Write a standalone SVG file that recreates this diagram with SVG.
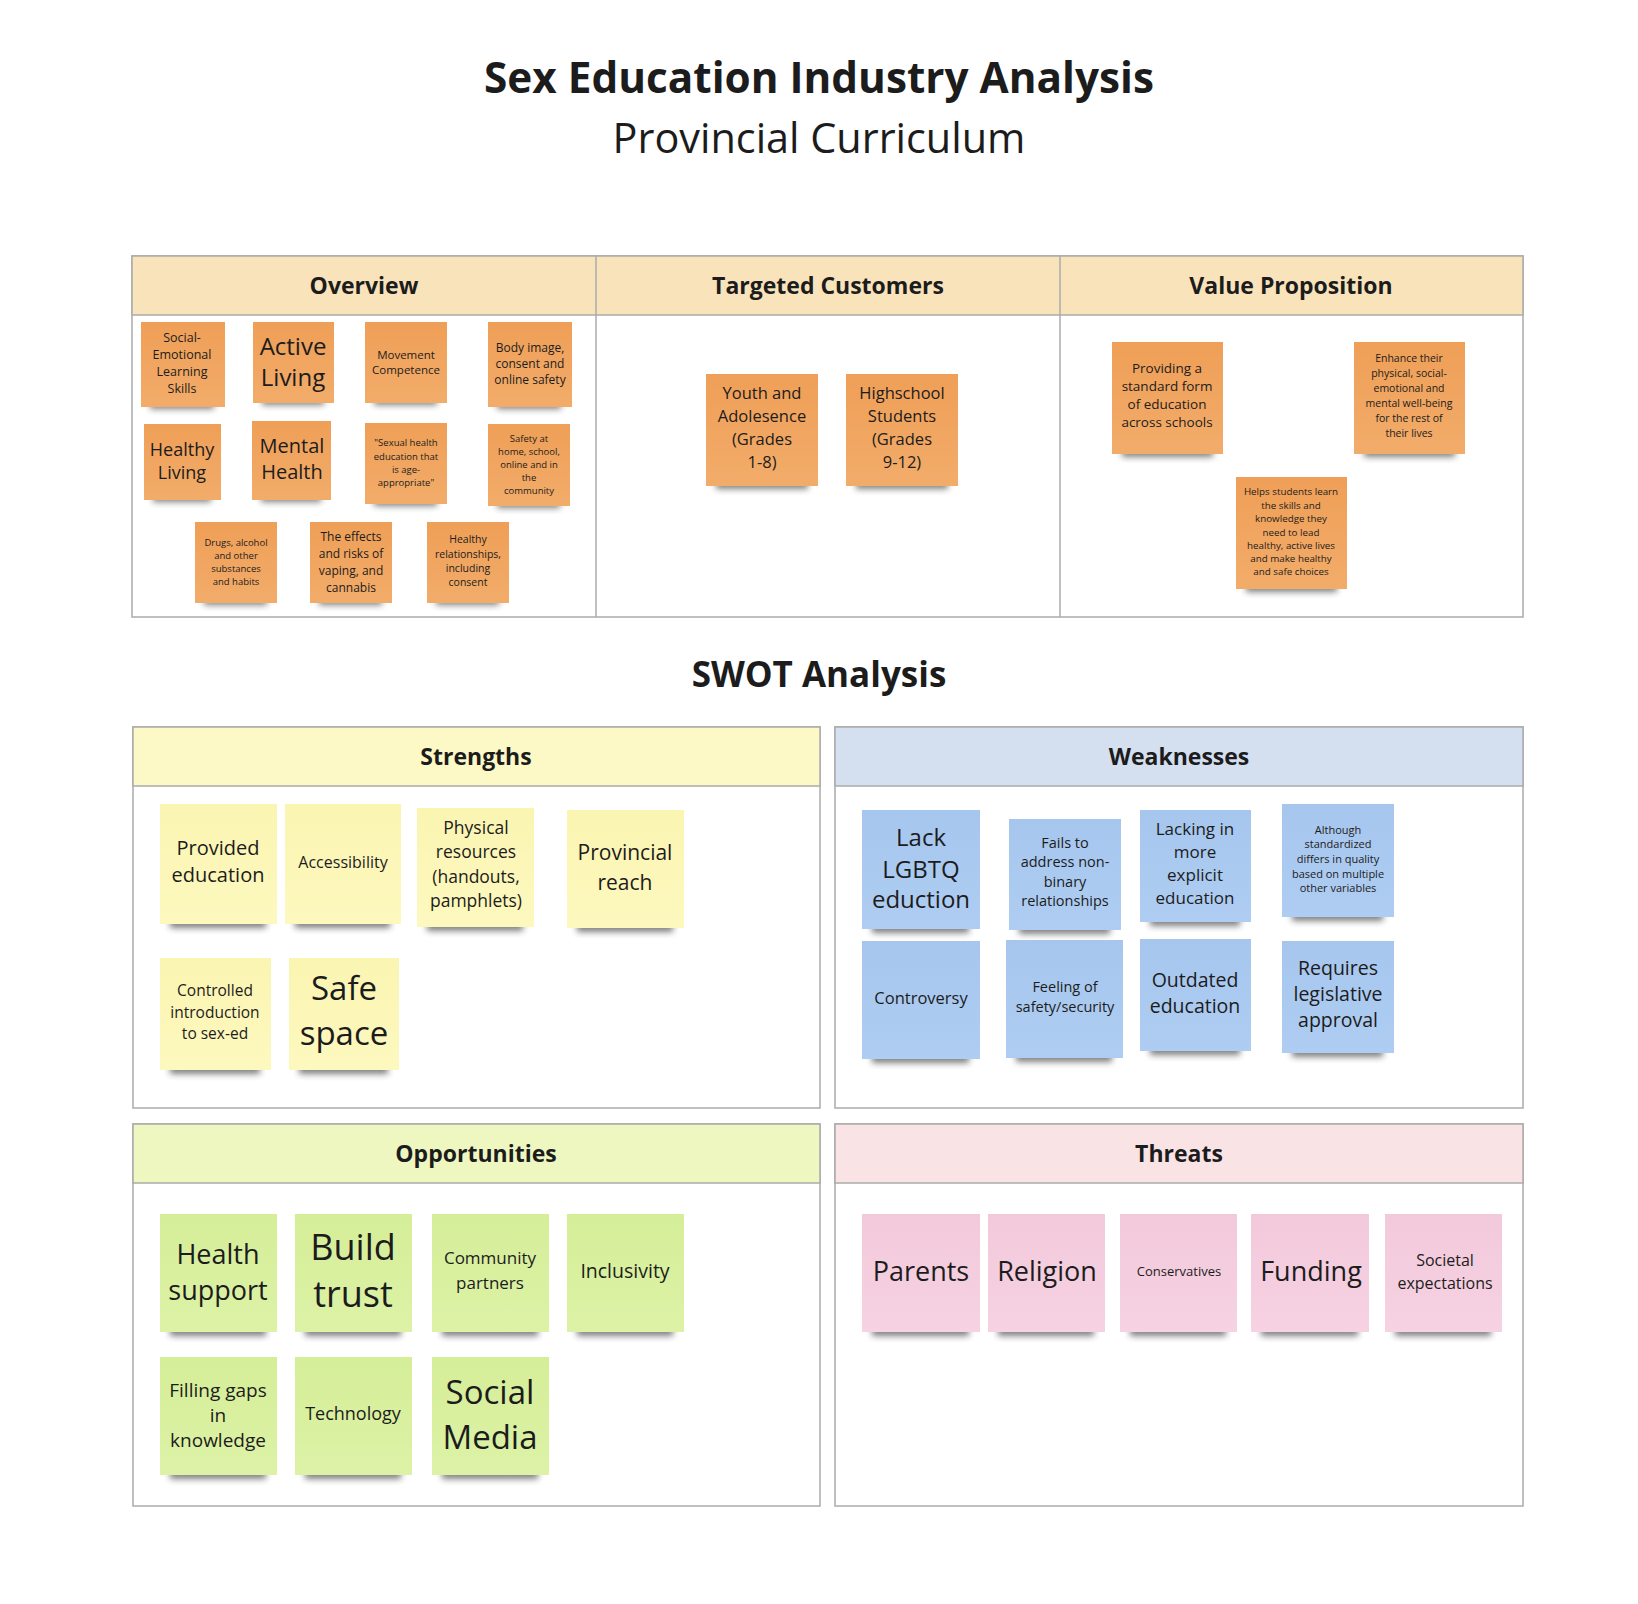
<svg xmlns="http://www.w3.org/2000/svg" width="1638" height="1604" viewBox="0 0 1638 1604">
<defs>
<filter id="blur" x="-20%" y="-100%" width="140%" height="300%"><feGaussianBlur stdDeviation="3"/></filter>
<linearGradient id="gO" x1="0" y1="0" x2="0" y2="1"><stop offset="0" stop-color="#EF9F57"/><stop offset="1" stop-color="#F2AC6A"/></linearGradient>
<linearGradient id="gY" x1="0" y1="0" x2="0" y2="1"><stop offset="0" stop-color="#FBF5B2"/><stop offset="1" stop-color="#FDF8BE"/></linearGradient>
<linearGradient id="gB" x1="0" y1="0" x2="0" y2="1"><stop offset="0" stop-color="#A6C6EE"/><stop offset="1" stop-color="#AFCDF2"/></linearGradient>
<linearGradient id="gG" x1="0" y1="0" x2="0" y2="1"><stop offset="0" stop-color="#D5EE98"/><stop offset="1" stop-color="#DDF2A6"/></linearGradient>
<linearGradient id="gP" x1="0" y1="0" x2="0" y2="1"><stop offset="0" stop-color="#F2C9DB"/><stop offset="1" stop-color="#F6D2E2"/></linearGradient>
</defs>
<style>
text{font-family:"Open Sans","Noto Sans","Liberation Sans",sans-serif;fill:#1c1c1c;text-anchor:middle}
.h{font-weight:700;font-size:23px}
.frame{fill:#fff;stroke:#ABABAB;stroke-width:1.5}
.hd{stroke:#ABABAB;stroke-width:1.5}
.sh{fill:#2a2a2a;opacity:.6;filter:url(#blur)}
.o{fill:url(#gO)}.y{fill:url(#gY)}.b{fill:url(#gB)}.g{fill:url(#gG)}.p{fill:url(#gP)}
</style>
<rect width="1638" height="1604" fill="#fff"/>

<g id="title">
<text x="819" y="93" style="font-weight:700;font-size:42.3px">Sex Education Industry Analysis</text>
<text x="819" y="153" style="font-size:41.4px">Provincial Curriculum</text>
</g>

<!-- Top table -->
<g id="top-table">
<rect class="frame" x="132" y="256" width="1391" height="361"/>
<rect x="132" y="256" width="1391" height="59" fill="#F9E3BB" stroke="#ABABAB" stroke-width="1.5"/>
<line class="hd" x1="596" y1="256" x2="596" y2="617"/>
<line class="hd" x1="1060" y1="256" x2="1060" y2="617"/>
<text class="h" x="364" y="294">Overview</text>
<text class="h" x="828" y="294">Targeted Customers</text>
<text class="h" x="1291" y="294">Value Proposition</text>
</g>

<g id="ov-social"><rect class="sh" x="150" y="401" width="64" height="8"/><rect class="o" x="141" y="322" width="84" height="85"/>
<text style="font-size:12.5px"><tspan x="182" y="342">Social-</tspan><tspan x="182" y="359">Emotional</tspan><tspan x="182" y="376">Learning</tspan><tspan x="182" y="393">Skills</tspan></text></g>
<g id="ov-active"><rect class="sh" x="262" y="397" width="62" height="8"/><rect class="o" x="253" y="322" width="81" height="81"/>
<text style="font-size:24px"><tspan x="293" y="355">Active</tspan><tspan x="293" y="386">Living</tspan></text></g>
<g id="ov-movement"><rect class="sh" x="374" y="397" width="63" height="8"/><rect class="o" x="365" y="322" width="82" height="81"/>
<text style="font-size:11.5px"><tspan x="406" y="359">Movement</tspan><tspan x="406" y="374">Competence</tspan></text></g>
<g id="ov-body"><rect class="sh" x="497" y="401" width="64" height="8"/><rect class="o" x="488" y="322" width="84" height="85"/>
<text style="font-size:12px"><tspan x="530" y="352">Body image,</tspan><tspan x="530" y="368">consent and</tspan><tspan x="530" y="384">online safety</tspan></text></g>

<g id="ov-healthy"><rect class="sh" x="153" y="494" width="58" height="8"/><rect class="o" x="144" y="424" width="77" height="76"/>
<text style="font-size:18px"><tspan x="182" y="456">Healthy</tspan><tspan x="182" y="479">Living</tspan></text></g>
<g id="ov-mental"><rect class="sh" x="261" y="494" width="60" height="8"/><rect class="o" x="252" y="421" width="79" height="79"/>
<text style="font-size:20px"><tspan x="292" y="453">Mental</tspan><tspan x="292" y="479">Health</tspan></text></g>
<g id="ov-sexual"><rect class="sh" x="374" y="498" width="63" height="8"/><rect class="o" x="365" y="423" width="82" height="81"/>
<text style="font-size:9.5px"><tspan x="406" y="446">"Sexual health</tspan><tspan x="406" y="460">education that</tspan><tspan x="406" y="473">is age-</tspan><tspan x="406" y="486">appropriate"</tspan></text></g>
<g id="ov-safety"><rect class="sh" x="497" y="500" width="63" height="8"/><rect class="o" x="488" y="424" width="82" height="82"/>
<text style="font-size:9.5px"><tspan x="529" y="442">Safety at</tspan><tspan x="529" y="455">home, school,</tspan><tspan x="529" y="468">online and in</tspan><tspan x="529" y="481">the</tspan><tspan x="529" y="494">community</tspan></text></g>

<g id="ov-drugs"><rect class="sh" x="204" y="597" width="63" height="8"/><rect class="o" x="195" y="522" width="82" height="81"/>
<text style="font-size:9.5px"><tspan x="236" y="546">Drugs, alcohol</tspan><tspan x="236" y="559">and other</tspan><tspan x="236" y="572">substances</tspan><tspan x="236" y="585">and habits</tspan></text></g>
<g id="ov-vaping"><rect class="sh" x="319" y="597" width="63" height="8"/><rect class="o" x="310" y="522" width="82" height="81"/>
<text style="font-size:12px"><tspan x="351" y="541">The effects</tspan><tspan x="351" y="558">and risks of</tspan><tspan x="351" y="575">vaping, and</tspan><tspan x="351" y="592">cannabis</tspan></text></g>
<g id="ov-relationships"><rect class="sh" x="436" y="597" width="63" height="8"/><rect class="o" x="427" y="522" width="82" height="81"/>
<text style="font-size:10.5px"><tspan x="468" y="543">Healthy</tspan><tspan x="468" y="558">relationships,</tspan><tspan x="468" y="572">including</tspan><tspan x="468" y="586">consent</tspan></text></g>

<g id="tc-youth"><rect class="sh" x="716" y="480" width="92" height="9"/><rect class="o" x="706" y="374" width="112" height="112"/>
<text style="font-size:16.5px"><tspan x="762" y="399">Youth and</tspan><tspan x="762" y="422">Adolesence</tspan><tspan x="762" y="445">(Grades</tspan><tspan x="762" y="468">1-8)</tspan></text></g>
<g id="tc-highschool"><rect class="sh" x="856" y="480" width="92" height="9"/><rect class="o" x="846" y="374" width="112" height="112"/>
<text style="font-size:16.5px"><tspan x="902" y="399">Highschool</tspan><tspan x="902" y="422">Students</tspan><tspan x="902" y="445">(Grades</tspan><tspan x="902" y="468">9-12)</tspan></text></g>

<g id="vp-standard"><rect class="sh" x="1122" y="448" width="91" height="9"/><rect class="o" x="1112" y="342" width="111" height="112"/>
<text style="font-size:13.5px"><tspan x="1167" y="373">Providing a</tspan><tspan x="1167" y="391">standard form</tspan><tspan x="1167" y="409">of education</tspan><tspan x="1167" y="427">across schools</tspan></text></g>
<g id="vp-enhance"><rect class="sh" x="1364" y="448" width="91" height="9"/><rect class="o" x="1354" y="342" width="111" height="112"/>
<text style="font-size:10.5px"><tspan x="1409" y="362">Enhance their</tspan><tspan x="1409" y="377">physical, social-</tspan><tspan x="1409" y="392">emotional and</tspan><tspan x="1409" y="407">mental well-being</tspan><tspan x="1409" y="422">for the rest of</tspan><tspan x="1409" y="437">their lives</tspan></text></g>
<g id="vp-helps"><rect class="sh" x="1246" y="583" width="91" height="9"/><rect class="o" x="1236" y="477" width="111" height="112"/>
<text style="font-size:9.8px"><tspan x="1291" y="495">Helps students learn</tspan><tspan x="1291" y="509">the skills and</tspan><tspan x="1291" y="522">knowledge they</tspan><tspan x="1291" y="536">need to lead</tspan><tspan x="1291" y="549">healthy, active lives</tspan><tspan x="1291" y="562">and make healthy</tspan><tspan x="1291" y="575">and safe choices</tspan></text></g>

<g id="swot-title"><text x="819" y="687" style="font-weight:700;font-size:35px">SWOT Analysis</text></g>

<!-- SWOT frames -->
<g id="strengths">
<rect class="frame" x="133" y="727" width="687" height="381"/>
<rect x="133" y="727" width="687" height="59" fill="#FCF9C6" stroke="#ABABAB" stroke-width="1.5"/>
<text class="h" x="476" y="765">Strengths</text>
</g>
<g id="weaknesses">
<rect class="frame" x="835" y="727" width="688" height="381"/>
<rect x="835" y="727" width="688" height="59" fill="#D4E0F0" stroke="#ABABAB" stroke-width="1.5"/>
<text class="h" x="1179" y="765">Weaknesses</text>
</g>
<g id="opportunities">
<rect class="frame" x="133" y="1124" width="687" height="382"/>
<rect x="133" y="1124" width="687" height="59" fill="#EEF7C0" stroke="#ABABAB" stroke-width="1.5"/>
<text class="h" x="476" y="1162">Opportunities</text>
</g>
<g id="threats">
<rect class="frame" x="835" y="1124" width="688" height="382"/>
<rect x="835" y="1124" width="688" height="59" fill="#FAE3E5" stroke="#ABABAB" stroke-width="1.5"/>
<text class="h" x="1179" y="1162">Threats</text>
</g>

<!-- Strengths stickies -->
<g id="s-provided"><rect class="sh" x="170" y="918" width="96" height="10"/><rect class="y" x="160" y="804" width="117" height="120"/>
<text style="font-size:20px"><tspan x="218" y="855">Provided</tspan><tspan x="218" y="882">education</tspan></text></g>
<g id="s-access"><rect class="sh" x="295" y="918" width="95" height="10"/><rect class="y" x="285" y="804" width="116" height="120"/>
<text style="font-size:16px"><tspan x="343" y="868">Accessibility</tspan></text></g>
<g id="s-physical"><rect class="sh" x="427" y="921" width="96" height="10"/><rect class="y" x="417" y="808" width="117" height="119"/>
<text style="font-size:17.5px"><tspan x="476" y="834">Physical</tspan><tspan x="476" y="858">resources</tspan><tspan x="476" y="883">(handouts,</tspan><tspan x="476" y="907">pamphlets)</tspan></text></g>
<g id="s-provincial"><rect class="sh" x="577" y="922" width="96" height="10"/><rect class="y" x="567" y="810" width="117" height="118"/>
<text style="font-size:21px"><tspan x="625" y="860">Provincial</tspan><tspan x="625" y="890">reach</tspan></text></g>
<g id="s-controlled"><rect class="sh" x="170" y="1064" width="90" height="10"/><rect class="y" x="160" y="958" width="111" height="112"/>
<text style="font-size:15.5px"><tspan x="215" y="996">Controlled</tspan><tspan x="215" y="1018">introduction</tspan><tspan x="215" y="1039">to sex-ed</tspan></text></g>
<g id="s-safe"><rect class="sh" x="299" y="1064" width="89" height="10"/><rect class="y" x="289" y="958" width="110" height="112"/>
<text style="font-size:33px"><tspan x="344" y="1000">Safe</tspan><tspan x="344" y="1045">space</tspan></text></g>

<!-- Weaknesses stickies -->
<g id="w-lgbtq"><rect class="sh" x="872" y="923" width="97" height="10"/><rect class="b" x="862" y="810" width="118" height="119"/>
<text style="font-size:24px"><tspan x="921" y="846">Lack</tspan><tspan x="921" y="878">LGBTQ</tspan><tspan x="921" y="908">eduction</tspan></text></g>
<g id="w-nonbinary"><rect class="sh" x="1019" y="924" width="91" height="10"/><rect class="b" x="1009" y="819" width="112" height="111"/>
<text style="font-size:14.5px"><tspan x="1065" y="848">Fails to</tspan><tspan x="1065" y="867">address non-</tspan><tspan x="1065" y="887">binary</tspan><tspan x="1065" y="906">relationships</tspan></text></g>
<g id="w-explicit"><rect class="sh" x="1150" y="916" width="90" height="10"/><rect class="b" x="1140" y="810" width="111" height="112"/>
<text style="font-size:17px"><tspan x="1195" y="835">Lacking in</tspan><tspan x="1195" y="858">more</tspan><tspan x="1195" y="881">explicit</tspan><tspan x="1195" y="904">education</tspan></text></g>
<g id="w-quality"><rect class="sh" x="1292" y="911" width="91" height="10"/><rect class="b" x="1282" y="804" width="112" height="113"/>
<text style="font-size:11px"><tspan x="1338" y="834">Although</tspan><tspan x="1338" y="848">standardized</tspan><tspan x="1338" y="863">differs in quality</tspan><tspan x="1338" y="878">based on multiple</tspan><tspan x="1338" y="892">other variables</tspan></text></g>
<g id="w-controversy"><rect class="sh" x="872" y="1053" width="97" height="10"/><rect class="b" x="862" y="941" width="118" height="118"/>
<text style="font-size:16.5px"><tspan x="921" y="1004">Controversy</tspan></text></g>
<g id="w-safety"><rect class="sh" x="1016" y="1052" width="96" height="10"/><rect class="b" x="1006" y="940" width="117" height="118"/>
<text style="font-size:14.5px"><tspan x="1065" y="992">Feeling of</tspan><tspan x="1065" y="1012">safety/security</tspan></text></g>
<g id="w-outdated"><rect class="sh" x="1150" y="1045" width="90" height="10"/><rect class="b" x="1140" y="939" width="111" height="112"/>
<text style="font-size:19.5px"><tspan x="1195" y="987">Outdated</tspan><tspan x="1195" y="1013">education</tspan></text></g>
<g id="w-legislative"><rect class="sh" x="1292" y="1047" width="91" height="10"/><rect class="b" x="1282" y="941" width="112" height="112"/>
<text style="font-size:19.5px"><tspan x="1338" y="975">Requires</tspan><tspan x="1338" y="1001">legislative</tspan><tspan x="1338" y="1027">approval</tspan></text></g>

<!-- Opportunities stickies -->
<g id="o-health"><rect class="sh" x="170" y="1326" width="96" height="10"/><rect class="g" x="160" y="1214" width="117" height="118"/>
<text style="font-size:27px"><tspan x="218" y="1264">Health</tspan><tspan x="218" y="1300">support</tspan></text></g>
<g id="o-trust"><rect class="sh" x="305" y="1326" width="96" height="10"/><rect class="g" x="295" y="1214" width="117" height="118"/>
<text style="font-size:36px"><tspan x="353" y="1260">Build</tspan><tspan x="353" y="1307">trust</tspan></text></g>
<g id="o-community"><rect class="sh" x="442" y="1326" width="96" height="10"/><rect class="g" x="432" y="1214" width="117" height="118"/>
<text style="font-size:17px"><tspan x="490" y="1264">Community</tspan><tspan x="490" y="1289">partners</tspan></text></g>
<g id="o-inclusivity"><rect class="sh" x="577" y="1326" width="96" height="10"/><rect class="g" x="567" y="1214" width="117" height="118"/>
<text style="font-size:19.5px"><tspan x="625" y="1278">Inclusivity</tspan></text></g>
<g id="o-gaps"><rect class="sh" x="170" y="1469" width="96" height="10"/><rect class="g" x="160" y="1357" width="117" height="118"/>
<text style="font-size:19px"><tspan x="218" y="1397">Filling gaps</tspan><tspan x="218" y="1422">in</tspan><tspan x="218" y="1447">knowledge</tspan></text></g>
<g id="o-technology"><rect class="sh" x="305" y="1469" width="96" height="10"/><rect class="g" x="295" y="1357" width="117" height="118"/>
<text style="font-size:18px"><tspan x="353" y="1420">Technology</tspan></text></g>
<g id="o-social"><rect class="sh" x="442" y="1469" width="96" height="10"/><rect class="g" x="432" y="1357" width="117" height="118"/>
<text style="font-size:33px"><tspan x="490" y="1404">Social</tspan><tspan x="490" y="1449">Media</tspan></text></g>

<!-- Threats stickies -->
<g id="t-parents"><rect class="sh" x="872" y="1326" width="97" height="10"/><rect class="p" x="862" y="1214" width="118" height="118"/>
<text style="font-size:27px"><tspan x="921" y="1281">Parents</tspan></text></g>
<g id="t-religion"><rect class="sh" x="998" y="1326" width="96" height="10"/><rect class="p" x="988" y="1214" width="117" height="118"/>
<text style="font-size:27px"><tspan x="1047" y="1281">Religion</tspan></text></g>
<g id="t-conservatives"><rect class="sh" x="1130" y="1326" width="96" height="10"/><rect class="p" x="1120" y="1214" width="117" height="118"/>
<text style="font-size:13px"><tspan x="1179" y="1276">Conservatives</tspan></text></g>
<g id="t-funding"><rect class="sh" x="1261" y="1326" width="97" height="10"/><rect class="p" x="1251" y="1214" width="118" height="118"/>
<text style="font-size:27px"><tspan x="1311" y="1281">Funding</tspan></text></g>
<g id="t-societal"><rect class="sh" x="1395" y="1326" width="96" height="10"/><rect class="p" x="1385" y="1214" width="117" height="118"/>
<text style="font-size:16px"><tspan x="1445" y="1266">Societal</tspan><tspan x="1445" y="1289">expectations</tspan></text></g>

<g id="connectors"/>
</svg>
